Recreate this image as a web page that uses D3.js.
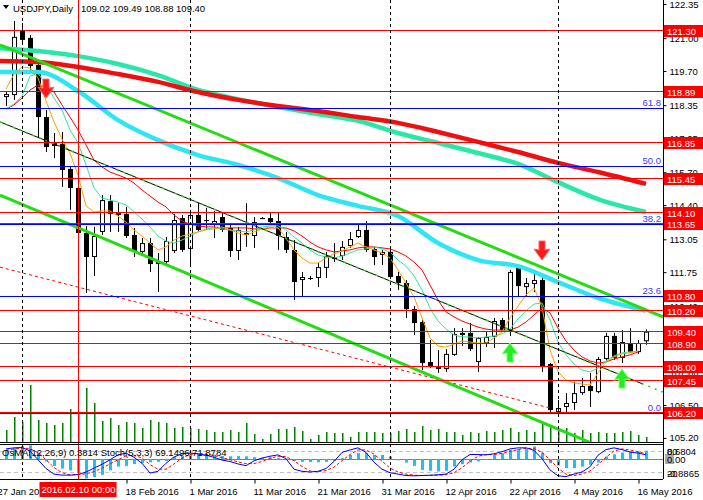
<!DOCTYPE html>
<html><head><meta charset="utf-8">
<script src="https://cdn.jsdelivr.net/npm/d3@7/dist/d3.min.js"></script>
<style>
html,body{margin:0;padding:0;background:#fff;}
svg{display:block;font-family:"Liberation Sans",Arial,sans-serif;}
</style></head><body>
<svg id="c" width="703" height="500"></svg>
<script>
// ---------- DATA ----------
const symbolTitle = "USDJPY,Daily";
const lastOHLC = "109.02 109.49 108.88 109.40";
const openP = [118.67,118.75,121.32,121.01,119.94,117.88,116.86,116.82,115.83,115.08,
113.30,112.35,113.34,114.56,114.09,114.05,113.22,112.55,112.90,112.15,
112.15,112.59,113.89,112.67,114.01,113.81,113.65,113.93,113.50,112.59,
113.30,113.18,113.89,113.89,113.77,113.14,112.63,111.44,111.52,111.52,
111.92,112.35,112.39,112.78,113.14,113.42,112.67,112.43,112.55,111.60,
111.32,110.29,109.78,108.20,108.04,107.92,108.48,109.27,109.35,108.20,
108.95,109.19,109.86,109.43,111.92,111.16,111.28,111.44,108.12,106.22,
106.42,106.58,106.97,107.25,107.01,108.32,109.23,108.36,108.95,108.59,109.02];
const highP = [118.91,121.68,121.60,121.12,120.14,118.16,117.25,117.29,115.91,115.16,
113.57,113.54,114.80,114.80,114.48,114.33,113.50,113.10,113.10,112.51,
113.14,114.05,114.01,114.21,114.48,114.29,114.17,114.09,113.69,113.54,
114.48,113.93,113.93,114.09,114.09,113.34,113.02,111.76,111.60,112.11,
112.55,112.90,112.98,113.34,113.61,113.77,112.75,112.63,112.67,111.76,
111.44,110.41,109.86,109.07,108.67,108.71,109.54,109.54,109.74,109.19,
109.39,109.94,109.94,111.84,112.03,111.52,111.80,111.60,108.16,106.70,
106.97,107.41,107.57,107.77,108.40,109.35,109.35,109.46,109.54,109.07,109.49];
const lowP = [118.32,118.56,120.81,119.74,117.05,116.50,116.26,115.12,114.21,113.22,
110.93,111.60,113.22,113.34,113.34,113.10,112.35,112.47,111.76,110.97,
112.03,112.51,112.55,111.95,113.34,113.42,113.10,113.34,112.35,112.23,
112.75,112.71,113.85,113.69,112.63,112.51,110.65,110.81,111.44,111.16,
111.52,112.15,112.23,112.71,113.10,112.55,112.03,112.03,111.48,111.05,
109.94,109.27,107.88,107.96,107.77,107.81,108.44,108.83,108.63,107.81,
108.79,108.75,109.39,109.23,110.77,110.77,110.97,107.81,106.22,106.18,
106.22,106.30,106.90,106.42,106.97,108.20,108.28,108.16,108.56,108.52,108.88];
const closeP = [118.79,121.05,120.93,119.90,117.88,116.70,116.74,115.79,115.08,113.30,
112.35,113.18,114.60,114.05,114.01,113.18,112.59,112.90,112.07,112.07,
112.98,113.81,112.63,114.01,113.42,113.77,113.77,113.42,112.59,113.42,
113.22,113.73,113.87,113.73,113.18,112.63,111.36,111.56,111.50,111.95,
112.39,112.27,112.75,113.06,113.42,112.63,112.35,112.55,111.56,111.32,
110.29,109.74,108.16,108.00,107.92,108.52,109.31,109.35,108.71,109.15,
109.19,109.82,109.46,111.76,111.20,111.32,111.44,108.04,106.30,106.38,
106.58,106.97,107.25,107.05,108.32,109.23,108.36,108.99,108.59,108.95,109.40];
const volume = [4200,8750,7000,19950,7700,6650,5950,6650,11550,10500,
18900,13650,7350,8400,5950,7000,6650,4900,7700,7000,
6650,4900,5250,4900,4550,4200,3500,3500,4200,3500,
6650,2800,1050,2800,4550,4550,5250,3850,1050,2450,
3500,3150,3150,1750,3500,3500,3500,3150,3150,3850,
4550,3500,5600,4200,4550,3500,3500,2450,3500,3150,
3850,3500,4200,4900,3500,4200,3500,7000,5250,4900,
4900,3150,4200,3150,3500,3150,3150,3500,3850,2450,1750];

// thin moving averages (per bar)
const maOrange = [118.99,119.58,119.86,119.82,119.43,118.52,117.69,117.01,116.46,115.59,
114.37,114.13,114.17,114.17,113.97,113.73,113.42,113.18,112.90,112.63,
112.75,113.02,113.18,113.26,113.34,113.42,113.46,113.54,113.42,113.30,
113.22,113.34,113.46,113.54,113.50,113.10,112.63,112.31,112.11,112.11,
112.31,112.47,112.59,112.75,112.90,112.75,112.63,112.51,112.31,111.84,
111.32,110.77,109.94,109.15,108.83,108.79,108.91,109.03,108.99,108.95,
108.95,109.15,109.39,109.94,110.41,110.85,111.13,110.37,108.67,107.81,
107.49,107.37,107.33,107.29,107.77,108.20,108.40,108.52,108.56,108.63];
const maGreen = [118.20,118.40,118.71,119.50,119.62,119.15,118.63,118.16,117.37,116.86,
115.99,115.08,114.68,114.60,114.52,114.41,114.13,113.85,113.54,113.18,
112.98,112.90,113.02,113.18,113.34,113.46,113.50,113.46,113.42,113.38,
113.34,113.42,113.54,113.58,113.58,113.42,113.14,112.90,112.63,112.43,
112.35,112.31,112.39,112.51,112.63,112.67,112.75,112.67,112.55,112.23,
111.99,111.60,111.05,110.33,109.82,109.50,109.27,109.19,109.19,109.15,
109.19,109.23,109.31,109.50,109.90,110.22,110.49,110.53,109.86,108.99,
108.48,108.12,107.88,107.81,107.96,108.24,108.44,108.56,108.60,108.63];
const maRed = [118.20,118.36,118.63,118.95,119.15,119.07,118.87,118.36,117.88,117.37,
116.78,116.18,115.91,115.71,115.59,115.47,115.27,115.00,114.76,114.52,
114.33,114.01,113.77,113.65,113.58,113.54,113.54,113.50,113.50,113.50,
113.50,113.46,113.46,113.50,113.50,113.50,113.38,113.18,112.94,112.75,
112.63,112.55,112.59,112.63,112.71,112.75,112.75,112.71,112.67,112.55,
112.39,112.15,111.84,111.24,110.65,110.18,109.98,109.82,109.70,109.58,
109.50,109.46,109.46,109.46,109.58,109.78,110.06,110.33,110.14,109.54,
109.03,108.67,108.40,108.24,108.16,108.20,108.32,108.40,108.48,108.60];

// thick moving averages (sampled bars)
const thickIdx = [-1,4,9,14,19,24,29,34,39,44,49,54,59,64,69,74,80];
const maSlowRed  = [120.10,120.06,119.86,119.58,119.27,118.87,118.56,118.32,118.12,117.88,117.65,117.29,116.90,116.50,116.07,115.71,115.24];
const maSlowTeal = [120.61,120.49,120.29,119.98,119.54,118.95,118.59,118.28,118.00,117.73,117.25,116.86,116.46,116.03,115.31,114.64,114.13];
const maSlowCyan = [119.66,119.66,118.91,117.76,116.97,116.38,115.99,115.47,114.80,114.37,113.97,112.90,112.23,111.99,111.36,110.73,110.22];

// trend lines [barIndex, price]
const trendUpper  = [[-0.75,120.73],[82.125,109.98]];
const trendLower  = [[-0.75,114.80],[82.125,103.81]];
const trendMid    = [[-0.75,117.69],[79.6,107.33]];
const trendMidExt = [[-0.75,117.69],[82.125,107.01]];
const trendRedDash= [[-0.75,111.95],[68,106.38]];

// horizontal levels
const redLevels = [121.30,118.89,116.85,115.45,114.10,113.65,110.20,109.40,108.90,108.00,107.45,106.20];
const fibLow = 106.20, fibHigh = 125.69;
const fibRatios = [0.618,0.5,0.382,0.236,0.0];
const fibNames = ["61.8","50.0","38.2","23.6","0.0"];
const priceTagLevels = [121.30,118.89,116.85,115.45,114.10,113.65,110.80,110.20,109.40,108.90,108.00,107.45,106.20];
const priceTicks = [122.35,121.00,119.70,118.35,117.05,115.70,114.40,113.05,111.75,110.40,109.10,107.80,106.50,105.20];

// signal arrows
const arrowIdx   = [5,67,63,77];
const arrowPrice = [118.63,112.23,108.95,107.92];
const arrowDir   = ["down","down","up","up"];

// time axis
const tickIdx = [-1,15,23,31,39,47,55,63,71,79];
const tickLabels = ["27 Jan 2016","18 Feb 2016","1 Mar 2016","11 Mar 2016","21 Mar 2016","31 Mar 2016","12 Apr 2016","22 Apr 2016","4 May 2016","16 May 2016"];
const monthSepIdx = [2,23,48,69];
const crossIdx = 9;
const crossLabel = "2016.02.10 00:00";

// indicators
const osma = [0.40,0.49,0.58,0.62,0.30,-0.10,-0.30,-0.42,-0.50,-0.62,
-0.86,-0.80,-0.70,-0.50,-0.33,-0.30,-0.22,-0.18,-0.14,-0.12,
-0.08,0.10,0.15,0.22,0.25,0.22,0.20,0.15,0.13,0.14,
0.13,0.09,0.06,0.08,0.05,0.03,-0.08,-0.12,-0.13,-0.14,
-0.12,-0.08,0.05,0.19,0.27,0.27,0.19,0.19,0.12,-0.05,
-0.15,-0.30,-0.48,-0.52,-0.55,-0.52,-0.33,-0.22,-0.15,-0.10,
-0.02,0.19,0.27,0.42,0.45,0.45,0.57,0.30,-0.18,-0.28,
-0.40,-0.40,-0.33,-0.25,-0.15,0.12,0.22,0.30,0.34,0.34,0.3814];
const stochMain = [86,89,90,80,55,30,14,11,11,13,
20,31,42,55,69,74,62,45,17,22,
45,63,72,74,72,68,62,54,50,43,
38,52,60,65,69,58,28,22,20,22,
30,50,76,83,89,76,48,28,18,14,
10,9,10,11,12,14,28,55,70,70,
69,72,78,86,89,89,82,58,26,9,
7,14,20,35,68,84,89,84,77,74,69.15];
const stochSignal = [82,86,88,86,75,55,33,18,12,12,
15,21,31,43,55,66,68,60,41,28,
28,43,60,70,73,71,67,61,55,49,
44,44,50,59,65,64,52,36,23,21,
24,34,52,70,83,83,71,51,31,20,
14,11,10,10,11,12,18,32,51,65,
70,70,73,79,84,88,87,76,55,31,
14,10,14,23,41,62,80,86,83,78,71.88];
const osmaTitle = "OsMA(12,26,9) 0.3814  Stoch(5,3,3) 69.1496 71.8784";
const osmaMax = 0.6804, osmaMin = -0.8865;
const stochLevels = [80,20];

// ---------- LAYOUT ----------
const W=703,H=500, plotR=663, mainB=442, indT=444, indB=479;
const svg = d3.select("#c");
const x  = d3.scaleLinear().domain([0,80]).range([6,646]);
const y  = d3.scaleLinear().domain([105.038,122.508]).range([mainB,0]);
const vY = d3.scaleLinear().domain([0,d3.max(volume)]).range([mainB,385]);
const oY = d3.scaleLinear().domain([osmaMin,osmaMax]).range([indB,indT]);
const sY = d3.scaleLinear().domain([0,100]).range([indB,indT]);
const FS = "9.5px";

svg.append("rect").attr("width",W).attr("height",H).attr("fill","#fff");
const defs = svg.append("defs");
defs.append("clipPath").attr("id","cm").append("rect").attr("x",0).attr("y",0).attr("width",plotR).attr("height",mainB);
defs.append("clipPath").attr("id","ci").append("rect").attr("x",0).attr("y",indT).attr("width",plotR).attr("height",indB-indT);

const main = svg.append("g").attr("clip-path","url(#cm)");
const ind  = svg.append("g").attr("clip-path","url(#ci)");
const idx = d3.range(openP.length);

// volumes
main.selectAll(".vol").data(volume).join("rect")
  .attr("x",(d,i)=>x(i)).attr("width",1.5)
  .attr("y",d=>vY(d)).attr("height",d=>mainB-vY(d)).attr("fill","#008000");

// candles
main.selectAll(".wick").data(idx).join("line")
  .attr("x1",i=>x(i)+0.5).attr("x2",i=>x(i)+0.5)
  .attr("y1",i=>y(highP[i])).attr("y2",i=>y(lowP[i]))
  .attr("stroke","#000").attr("stroke-width",1);
main.selectAll(".body").data(idx).join("rect")
  .attr("x",i=> closeP[i]>=openP[i] ? x(i)-1.5 : x(i)-2)
  .attr("width",i=> closeP[i]>=openP[i] ? 4 : 5)
  .attr("y",i=> y(Math.max(openP[i],closeP[i])) + (closeP[i]>=openP[i]?0.5:0))
  .attr("height",i=> Math.max(1, Math.abs(y(openP[i])-y(closeP[i])) - (closeP[i]>=openP[i]?1:0)))
  .attr("fill",i=> closeP[i]>=openP[i] ? "#fff" : "#000")
  .attr("stroke",i=> closeP[i]>=openP[i] ? "#000" : "none").attr("stroke-width",1);

// thick MAs
const thickLine = d3.line().x((d,k)=>x(thickIdx[k])).y(d=>y(d)).curve(d3.curveMonotoneX);
[[maSlowCyan,"#2ee6f2"],[maSlowTeal,"#28e8a8"],[maSlowRed,"#ee1010"]].forEach(([s,c])=>{
  main.append("path").attr("d",thickLine(s)).attr("fill","none").attr("stroke",c).attr("stroke-width",4.5);
});

// thin MAs
const thinLine = d3.line().x((d,i)=>x(i)).y(d=>y(d));
[[maRed,"#ff0000"],[maGreen,"#2ee89a"],[maOrange,"#ffa000"]].forEach(([s,c])=>{
  main.append("path").attr("d",thinLine(s)).attr("fill","none").attr("stroke",c).attr("stroke-width",1);
});

// trend lines
const tl = d3.line().x(d=>x(d[0])).y(d=>y(d[1]));
main.append("path").attr("d",tl(trendRedDash)).attr("stroke","#ff0000").attr("stroke-width",1).attr("stroke-dasharray","3,3").attr("fill","none");
main.append("path").attr("d",tl(trendUpper)).attr("stroke","#22dd11").attr("stroke-width",3).attr("fill","none");
main.append("path").attr("d",tl(trendLower)).attr("stroke","#22dd11").attr("stroke-width",3).attr("fill","none");
main.append("path").attr("d",tl(trendMid)).attr("stroke","#000").attr("stroke-width",1).attr("fill","none");
main.append("path").attr("d",tl(trendMidExt)).attr("stroke","#22dd11").attr("stroke-width",1.5).attr("stroke-dasharray","2,5").attr("fill","none");

// fib levels (blue)
const fibPrices = fibRatios.map(r=>fibLow + r*(fibHigh-fibLow));
main.selectAll(".fib").data(fibPrices).join("line")
  .attr("x1",0).attr("x2",plotR).attr("y1",d=>Math.round(y(d))+0.5).attr("y2",d=>Math.round(y(d))+0.5)
  .attr("stroke","#0000ff").attr("stroke-width",1.2);
svg.selectAll(".fibt").data(fibPrices).join("text")
  .attr("x",661).attr("y",d=>y(d)-2).attr("text-anchor","end")
  .attr("font-size",FS).attr("fill","#3a3aff").text((d,i)=>fibNames[i]);

// red levels
main.selectAll(".lvl").data(redLevels).join("line")
  .attr("x1",0).attr("x2",plotR).attr("y1",d=>Math.round(y(d))-0.5).attr("y2",d=>Math.round(y(d))-0.5)
  .attr("stroke","#ff0000").attr("stroke-width",1.2);

// arrows
const downArrow = "M-3,-19 L3,-19 L3,-10 L8,-11 L0,0 L-8,-11 L-3,-10 Z";
const upArrow   = "M-3,19 L3,19 L3,10 L8,11 L0,0 L-8,11 L-3,10 Z";
main.selectAll(".arr").data(arrowIdx).join("path")
  .attr("transform",(d,k)=>`translate(${x(d)},${y(arrowPrice[k])})`)
  .attr("d",(d,k)=>arrowDir[k]==="down"?downArrow:upArrow)
  .attr("fill",(d,k)=>arrowDir[k]==="down"?"#ff1a1a":"#22ee22")
  .attr("stroke",(d,k)=>arrowDir[k]==="down"?"#ff6060":"#80ff80").attr("stroke-width",1);

// vertical dashed month separators & crosshair
svg.selectAll(".sep").data(monthSepIdx).join("line")
  .attr("x1",d=>x(d)+0.5).attr("x2",d=>x(d)+0.5).attr("y1",0).attr("y2",indB)
  .attr("stroke","#000").attr("stroke-width",1).attr("stroke-dasharray","3,3");
svg.append("line").attr("x1",x(crossIdx)+0.5).attr("x2",x(crossIdx)+0.5).attr("y1",0).attr("y2",indB)
  .attr("stroke","#ff0000").attr("stroke-width",1);

// ---------- INDICATOR ----------
ind.selectAll(".lv").data(stochLevels).join("line")
  .attr("x1",0).attr("x2",plotR).attr("y1",d=>Math.round(sY(d))+0.5).attr("y2",d=>Math.round(sY(d))+0.5)
  .attr("stroke","#c0c0c0").attr("stroke-dasharray","4,3");
ind.append("line").attr("x1",0).attr("x2",plotR).attr("y1",Math.round(oY(0))+0.5).attr("y2",Math.round(oY(0))+0.5)
  .attr("stroke","#808080").attr("stroke-width",1.2);
ind.selectAll(".os").data(osma).join("rect")
  .attr("x",(d,i)=>x(i)-1).attr("width",3)
  .attr("y",d=>Math.min(oY(d),oY(0))).attr("height",d=>Math.abs(oY(d)-oY(0)))
  .attr("fill","#1ec0f2");
const sl = d3.line().x((d,i)=>x(i)).y(d=>sY(d));
ind.append("path").attr("d",sl(stochSignal)).attr("fill","none").attr("stroke","#ff0000").attr("stroke-width",1).attr("stroke-dasharray","3,2");
ind.append("path").attr("d",sl(stochMain)).attr("fill","none").attr("stroke","#0000ff").attr("stroke-width",1);
svg.append("text").attr("x",2).attr("y",456).attr("font-size",FS).attr("fill","#000").text(osmaTitle);

// frame lines
svg.append("line").attr("x1",0).attr("x2",plotR).attr("y1",mainB+0.5).attr("y2",mainB+0.5).attr("stroke","#000");
svg.append("line").attr("x1",0).attr("x2",plotR).attr("y1",indT+0.5).attr("y2",indT+0.5).attr("stroke","#000");
svg.append("line").attr("x1",0).attr("x2",plotR).attr("y1",indB+0.5).attr("y2",indB+0.5).attr("stroke","#000");
svg.append("line").attr("x1",plotR+0.5).attr("x2",plotR+0.5).attr("y1",0).attr("y2",indB).attr("stroke","#000");

// ---------- AXES ----------
const ya = svg.append("g").attr("transform",`translate(${plotR+0.5},0)`)
  .call(d3.axisRight(y).tickValues(priceTicks).tickSize(3).tickPadding(3).tickFormat(d3.format(".2f")));
ya.select(".domain").remove();
ya.selectAll("text").attr("font-size",FS).attr("fill","#000").attr("font-family","Liberation Sans, Arial, sans-serif");
ya.selectAll("line").attr("stroke","#000");

// price tags
const tags = svg.selectAll(".tag").data(priceTagLevels).join("g")
  .attr("transform",d=>`translate(664,${Math.round(y(d))})`);
tags.append("rect").attr("x",0).attr("y",-6).attr("width",39).attr("height",12).attr("fill","#ff0000");
tags.append("text").attr("x",3).attr("y",4).attr("font-size",FS).attr("fill","#fff").text(d=>d.toFixed(2));

// indicator scale labels
svg.append("rect").attr("x",665).attr("y",454).attr("width",9).attr("height",10).attr("fill","#a8a8a8");
[["0.6804",455],["80",455],["0.00",463],["-0.8865",477],["20",477]].forEach(([t,yy])=>{
  svg.append("text").attr("x",667).attr("y",yy).attr("font-size",FS).attr("fill","#000").text(t);
});

// time axis
const xa = svg.append("g").attr("transform",`translate(0,${indB+0.5})`)
  .call(d3.axisBottom(x).tickValues(tickIdx).tickSize(4).tickPadding(5).tickFormat((d,k)=>tickLabels[k]));
xa.select(".domain").remove();
xa.selectAll("text").attr("font-size",FS).attr("fill","#000").attr("text-anchor","start").attr("dx",-1)
  .attr("font-family","Liberation Sans, Arial, sans-serif");
xa.selectAll(".tick line").attr("stroke","#000").attr("transform","translate(0.5,0)");

// crosshair time label
svg.append("rect").attr("x",x(crossIdx)-38.5).attr("y",482).attr("width",77).attr("height",15).attr("fill","#ff0000");
svg.append("text").attr("x",x(crossIdx)+0.5).attr("y",493).attr("text-anchor","middle").attr("font-size",FS).attr("fill","#fff").text(crossLabel);

// header
svg.append("path").attr("d","M3,5 L9,5 L6,9 Z").attr("fill","#000");
svg.append("text").attr("x",13).attr("y",12).attr("font-size",FS).attr("fill","#000").text(symbolTitle);
svg.append("text").attr("x",81).attr("y",12).attr("font-size",FS).attr("fill","#000").text(lastOHLC);
</script>
</body></html>
